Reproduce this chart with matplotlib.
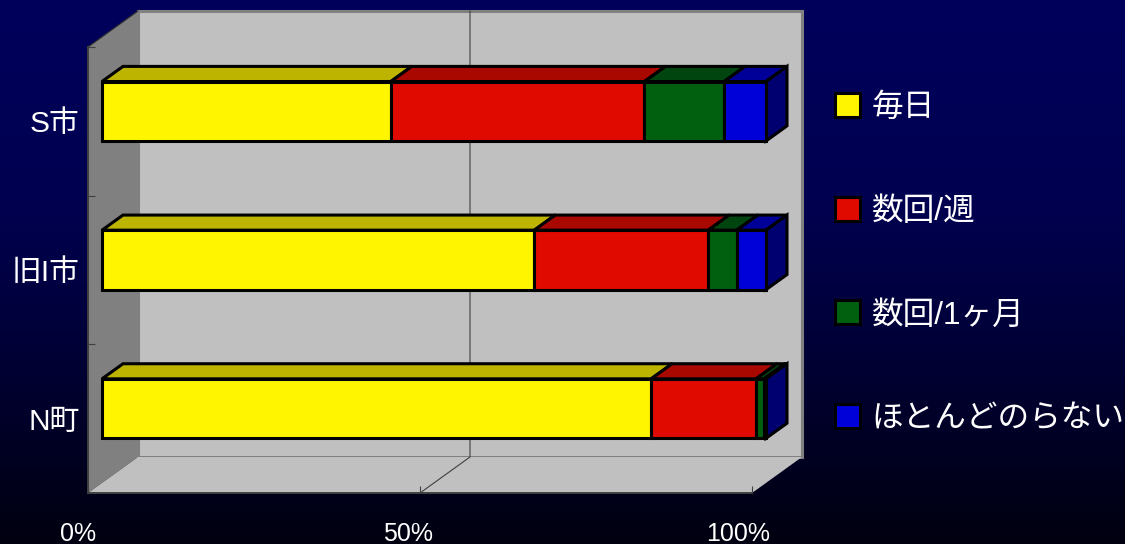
import numpy as np
import matplotlib
matplotlib.use("Agg")
import matplotlib.pyplot as plt
from matplotlib.patches import Polygon
from matplotlib.transforms import ScaledTranslation

FONT = ['Liberation Sans', 'Noto Sans CJK JP']
plt.rcParams['font.family'] = FONT

categories = ['S市', '旧I市', 'N町']
series_names = ['毎日', '数回/週', '数回/1ヶ月', 'ほとんどのらない']
daily = [43.5, 65.1, 82.7]
weekly = [38.2, 26.2, 15.8]
monthly = [12.0, 4.3, 1.2]
rarely = [6.3, 4.4, 0.3]
x_ticks = [0, 50, 100]
x_labels = ['0%', '50%', '100%']

front_colors = ['#FFF500', '#E00A00', '#006010', '#0000D8']
top_colors = ['#BDB400', '#A80800', '#004510', '#000098']
side_color = '#000070'

W, H = 1125, 544
fig = plt.figure(figsize=(W / 100, H / 100), dpi=100)

bg = fig.add_axes([0, 0, 1, 1], zorder=0)
bg_cmap = matplotlib.colors.LinearSegmentedColormap.from_list(
    'bg', [(0, '#00005C'), (0.37, '#000050'), (0.63, '#000038'), (1, '#000010')])
bg.imshow(np.linspace(0, 1, 256).reshape(-1, 1), aspect='auto', extent=(0, 1, 0, 1), cmap=bg_cmap)
bg.axis('off')

L, R, T, B = 88, 752, 47, 493
ax = fig.add_axes([L / W, (H - B) / H, (R - L) / W, (B - T) / H], zorder=1)
ax.patch.set_visible(False)
ax.set_xlim(0, 100)
ax.set_ylim(2.5, -0.5)

px_x = 100 / (R - L)
px_y = 3 / (B - T)


def proj(x, y, d):
    return x + d * 50 * px_x, y - d * 36 * px_y


def poly(pts, **kw):
    ax.add_patch(Polygon(pts, closed=True, clip_on=False, **kw))


# walls and floor of the 3-D box
x0, x1, y0, y1 = 0, 100, -0.5, 2.5
poly([proj(x0, y0, 1), proj(x1, y0, 1), proj(x1, y1, 1), proj(x0, y1, 1)],
     facecolor='#C0C0C0', edgecolor='#808080', linewidth=2.2, zorder=1)
poly([proj(x0, y0, 0), proj(x0, y0, 1), proj(x0, y1, 1), proj(x0, y1, 0)],
     facecolor='#808080', edgecolor='none', zorder=1.1)
poly([proj(x0, y1, 0), proj(x0, y1, 1), proj(x1, y1, 1), proj(x1, y1, 0)],
     facecolor='#C0C0C0', edgecolor='none', zorder=1.1)
ax.plot(*zip(proj(x0, y0, 0), proj(x0, y0, 1)), color='#303030', lw=0.8, zorder=1.2, clip_on=False)
for t in x_ticks[1:-1]:
    ax.plot(*zip(proj(t, y0, 1), proj(t, y1, 1), proj(t, y1, 0)),
            color='#404040', lw=0.8, zorder=1.15, clip_on=False)

# bars
values = [daily, weekly, monthly, rarely]
D0, D1 = 0.28, 0.70
BAR_H = 0.40
handles = []
y_pos = np.arange(len(categories))
left = np.zeros(len(categories))
for s, vals in enumerate(values):
    vals = np.array(vals)
    xf, yf = proj(left, y_pos, D0)
    bars = ax.barh(yf, vals, height=BAR_H, left=xf, color=front_colors[s],
                   edgecolor='black', linewidth=2.2, zorder=3, clip_on=False,
                   label=series_names[s])
    handles.append(bars)
    for i in range(len(categories)):
        ytop = y_pos[i] - BAR_H / 2
        a = proj(left[i], ytop, D0)
        b = proj(left[i] + vals[i], ytop, D0)
        c = proj(left[i] + vals[i], ytop, D1)
        d = proj(left[i], ytop, D1)
        poly([a, b, c, d], facecolor=top_colors[s], edgecolor='black', linewidth=2.2, zorder=2.5)
    left = left + vals
for i in range(len(categories)):
    yt, yb = y_pos[i] - BAR_H / 2, y_pos[i] + BAR_H / 2
    poly([proj(left[i], yt, D0), proj(left[i], yt, D1), proj(left[i], yb, D1), proj(left[i], yb, D0)],
         facecolor=side_color, edgecolor='black', linewidth=2.2, zorder=2.6)

# axes
for side in ('top', 'right'):
    ax.spines[side].set_visible(False)
for side in ('left', 'bottom'):
    ax.spines[side].set_color('#404040')
    ax.spines[side].set_linewidth(1.4)
    ax.spines[side].set_zorder(2)

ax.set_xticks(x_ticks, x_labels, fontsize=18, color='white')
ax.set_yticks(y_pos, categories, fontsize=21.5, color='white')
ax.set_yticks(np.arange(len(categories) + 1) - 0.5, minor=True)
ax.tick_params(axis='x', which='major', direction='in', length=5, width=0.8, color='#404040', pad=21)
ax.tick_params(axis='y', which='major', length=0, pad=6)
ax.tick_params(axis='y', which='minor', direction='in', length=5, width=0.8, color='#404040')
label_shifts_px = [-10, -12, -14]
for lab, dx in zip(ax.get_xticklabels(), label_shifts_px):
    lab.set_transform(lab.get_transform() + ScaledTranslation(dx / 100, 0, fig.dpi_scale_trans))

leg = ax.legend(handles, series_names, loc='center left', frameon=False,
                bbox_to_anchor=(835 / W, (H - 263.5) / H), bbox_transform=fig.transFigure,
                fontsize=22.8, labelcolor='white', borderpad=0, borderaxespad=0,
                handlelength=0.8, handleheight=0.8, handletextpad=0.36, labelspacing=2.32)

fig.savefig('out.png', dpi=100, facecolor='black')
